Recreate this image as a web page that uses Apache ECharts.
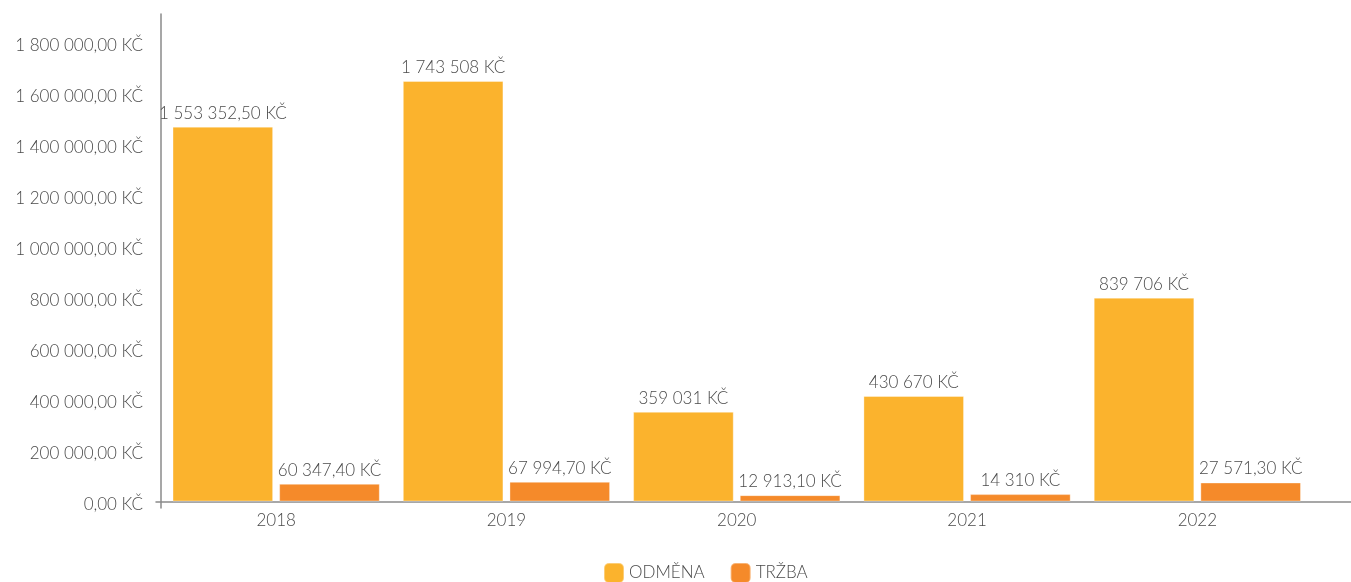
<!DOCTYPE html>
<html>
<head>
<meta charset="utf-8">
<script src="https://cdn.jsdelivr.net/npm/echarts@6/dist/echarts.min.js"></script>
<style>
  html, body { margin: 0; padding: 0; background: #fff; }
  #chart { width: 1351px; height: 582px; }
</style>
</head>
<body>
<div id="chart"></div>
<script>
// data
const years = ['2018', '2019', '2020', '2021', '2022'];
const seriesNames = ['ODMĚNA', 'TRŽBA'];
// bar heights as drawn
const odmena = [1471000, 1650000, 352000, 414000, 800000];
const trzba = [69500, 77300, 25000, 29000, 74500];
// value labels as printed above the bars
const odmenaLabels = ['1 553 352,50 KČ', '1 743 508 KČ', '359 031 KČ', '430 670 KČ', '839 706 KČ'];
const trzbaLabels = ['60 347,40 KČ', '67 994,70 KČ', '12 913,10 KČ', '14 310 KČ', '27 571,30 KČ'];
const yMax = 1913000;
const yStep = 200000;

const FONT = 'Lato';
const FS = 17;
const TXT = '#4a4a4a';
const AXIS = '#8a8a8a';

function fmtAxis(v) {
  const s = String(Math.round(v)).replace(/\B(?=(\d{3})+(?!\d))/g, ' ');
  return '{t|' + s + ',00 KČ}';
}

const chart = echarts.init(document.getElementById('chart'));

const labelStyle = {
  show: true,
  position: 'top',
  distance: 5,
  color: TXT,
  fontFamily: FONT,
  fontWeight: 300,
  fontSize: FS
};

chart.setOption({
  animation: false,
  color: ['#FBB32D', '#F58A2A'],
  legend: {
    data: seriesNames,
    left: 598,
    top: 557,
    icon: 'roundRect',
    itemWidth: 20,
    itemHeight: 20,
    itemGap: 25,
    textStyle: { color: TXT, fontFamily: FONT, fontWeight: 300, fontSize: FS }
  },
  grid: [
    { left: 161, right: 38.5, top: 14, bottom: 80.5 },
    // only used to draw the long axis lines
    { left: 156, right: 0, top: 14, bottom: 74 }
  ],
  xAxis: [
    {
      type: 'category',
      data: years,
      gridIndex: 0,
      axisLine: { show: false },
      axisTick: { show: false },
      axisLabel: { color: TXT, fontFamily: FONT, fontWeight: 300, fontSize: FS, margin: 11 }
    },
    {
      type: 'value',
      gridIndex: 1,
      min: -5,
      max: 1190,
      axisLine: { show: true, onZero: true, lineStyle: { color: AXIS, width: 1.5 } },
      axisTick: { show: false },
      axisLabel: { show: false },
      splitLine: { show: false }
    }
  ],
  yAxis: [
    {
      type: 'value',
      gridIndex: 0,
      min: 0,
      max: yMax,
      interval: yStep,
      axisLine: { show: false },
      axisTick: { show: false },
      splitLine: { show: false },
      axisLabel: {
        showMaxLabel: false,
        margin: 18,
        color: TXT,
        fontFamily: FONT,
        fontWeight: 300,
        fontSize: FS,
        formatter: fmtAxis,
        rich: {
          t: { color: TXT, fontFamily: FONT, fontWeight: 300, fontSize: FS, padding: [6, 0, 0, 0] }
        }
      }
    },
    {
      type: 'value',
      gridIndex: 1,
      min: -6.5,
      max: 487.5,
      axisLine: { show: true, onZero: true, lineStyle: { color: AXIS, width: 1.5 } },
      axisTick: { show: false },
      axisLabel: { show: false },
      splitLine: { show: false }
    }
  ],
  series: [
    {
      name: seriesNames[0],
      type: 'bar',
      xAxisIndex: 0,
      yAxisIndex: 0,
      data: odmena,
      barCategoryGap: '10%',
      barGap: '6%',
      itemStyle: { borderColor: 'rgba(255,255,255,0.35)', borderWidth: 1 },
      label: Object.assign({}, labelStyle, {
        formatter: p => odmenaLabels[p.dataIndex]
      })
    },
    {
      name: seriesNames[1],
      type: 'bar',
      xAxisIndex: 0,
      yAxisIndex: 0,
      data: trzba,
      barCategoryGap: '10%',
      barGap: '6%',
      itemStyle: { borderColor: 'rgba(255,255,255,0.35)', borderWidth: 1 },
      label: Object.assign({}, labelStyle, {
        formatter: p => trzbaLabels[p.dataIndex]
      })
    }
  ]
});
</script>
</body>
</html>
